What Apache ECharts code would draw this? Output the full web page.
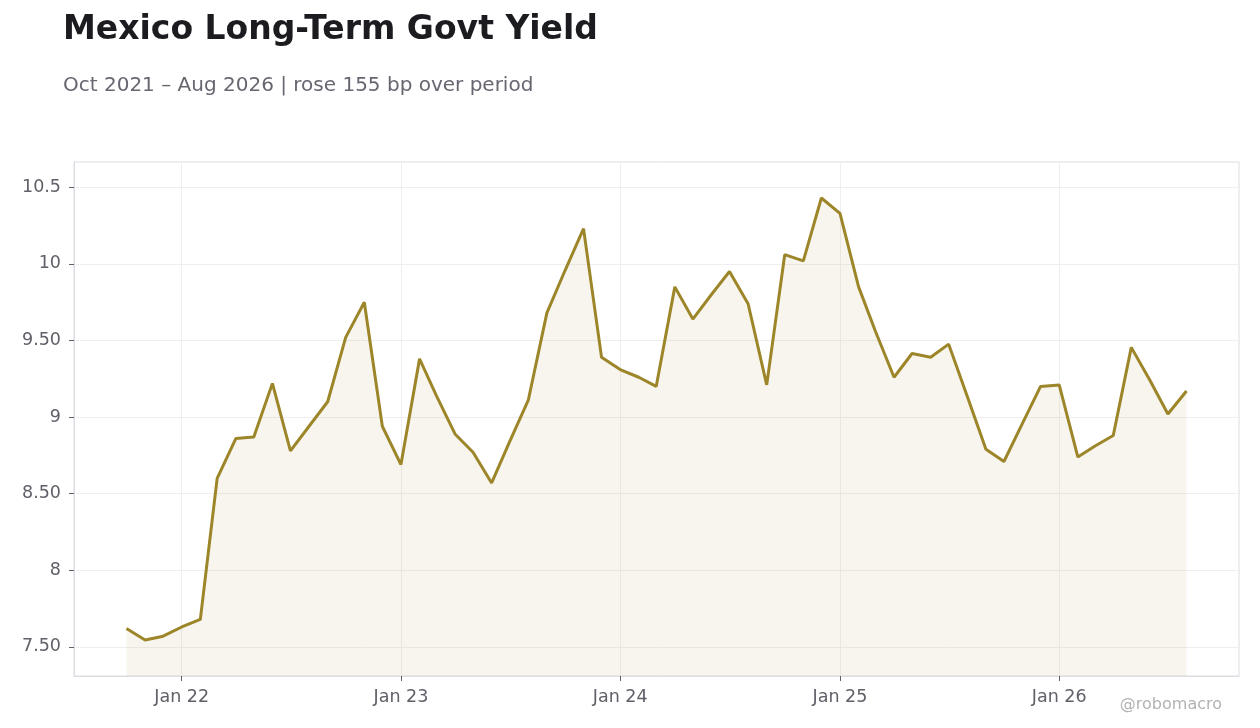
<!doctype html>
<html lang="en">
  <head>
    <meta charset="UTF-8" />
    <title>Mexico Long-Term Govt Yield</title>
    <script src="https://cdn.jsdelivr.net/npm/echarts@6/dist/echarts.min.js"></script>
    <style>
      html, body { margin: 0; padding: 0; background: #fff; }
      #chart { width: 1260px; height: 728px; }
    </style>
  </head>
  <body>
    <div id="chart"></div>
    <script>
      const months = [
        '2021-10', '2021-11', '2021-12',
        '2022-01', '2022-02', '2022-03', '2022-04', '2022-05', '2022-06',
        '2022-07', '2022-08', '2022-09', '2022-10', '2022-11', '2022-12',
        '2023-01', '2023-02', '2023-03', '2023-04', '2023-05', '2023-06',
        '2023-07', '2023-08', '2023-09', '2023-10', '2023-11', '2023-12',
        '2024-01', '2024-02', '2024-03', '2024-04', '2024-05', '2024-06',
        '2024-07', '2024-08', '2024-09', '2024-10', '2024-11', '2024-12',
        '2025-01', '2025-02', '2025-03', '2025-04', '2025-05', '2025-06',
        '2025-07', '2025-08', '2025-09', '2025-10', '2025-11', '2025-12',
        '2026-01', '2026-02', '2026-03', '2026-04', '2026-05', '2026-06',
        '2026-07', '2026-08'
      ];
      const yields = [
        7.62, 7.545, 7.57,
        7.63, 7.68, 8.60, 8.86, 8.87, 9.22,
        8.78, 8.94, 9.10, 9.52, 9.75, 8.94,
        8.69, 9.38, 9.14, 8.89, 8.77, 8.57,
        8.84, 9.11, 9.68, 9.955, 10.23, 9.39,
        9.31, 9.26, 9.20, 9.85, 9.64, 9.80,
        9.95, 9.74, 9.21, 10.06, 10.02, 10.43,
        10.33, 9.85, 9.56, 9.26, 9.415, 9.39,
        9.476, 9.135, 8.79, 8.71, 8.96, 9.20,
        9.21, 8.74, 8.81, 8.88, 9.455, 9.24,
        9.02, 9.17
      ];
      const xTicks = ['2022-01', '2023-01', '2024-01', '2025-01', '2026-01'];
      const xTickLabels = ['Jan 22', 'Jan 23', 'Jan 24', 'Jan 25', 'Jan 26'];
      const yTicks = [7.5, 8, 8.5, 9, 9.5, 10, 10.5];
      const yTickLabels = ['7.50', '8', '8.50', '9', '9.50', '10', '10.5'];

      const toTime = (m) => Date.UTC(+m.slice(0, 4), +m.slice(5, 7) - 1, 1);
      const seriesData = months.map((m, i) => [toTime(m), yields[i]]);
      const xTickTimes = xTicks.map(toTime);

      const lineColor = '#9c8629';
      const font = 'DejaVu Sans';

      const chart = echarts.init(document.getElementById('chart'));
      chart.setOption({
        animation: false,
        backgroundColor: '#ffffff',
        title: [
          {
            text: 'Mexico Long-Term Govt Yield',
            left: 58,
            top: 9,
            textStyle: { fontFamily: font, fontSize: 33, fontWeight: 'bold', color: '#1b1b20' }
          },
          {
            text: 'Oct 2021 \u2013 Aug 2026 | rose 155 bp over period',
            left: 58,
            top: 71,
            textStyle: { fontFamily: font, fontSize: 20, fontWeight: 'normal', color: '#666770' }
          }
        ],
        graphic: [
          {
            type: 'text',
            right: 38,
            top: 697,
            style: { text: '@robomacro', fill: '#b2b2b2', fontFamily: font, fontSize: 16 }
          }
        ],
        grid: {
          left: 74,
          right: 21,
          top: 162,
          bottom: 52,
          show: true,
          borderColor: '#dcdde2',
          borderWidth: 1,
          containLabel: false
        },
        xAxis: {
          type: 'value',
          scale: true,
          min: function (v) { return v.min - (v.max - v.min) * 0.0495; },
          max: function (v) { return v.max + (v.max - v.min) * 0.0495; },
          axisLine: { show: true, onZero: false, lineStyle: { color: '#dcdde2' } },
          axisTick: {
            show: true,
            length: 5,
            lineStyle: { color: '#5f6068' },
            customValues: xTickTimes
          },
          axisLabel: {
            customValues: xTickTimes,
            formatter: function (v) {
              const i = xTickTimes.indexOf(v);
              return i >= 0 ? xTickLabels[i] : '';
            },
            color: '#5f6068',
            fontFamily: font,
            fontSize: 17.5,
            margin: 12
          },
          splitLine: { show: true, lineStyle: { color: '#efefef' } }
        },
        yAxis: {
          type: 'value',
          min: 7.31,
          max: 10.665,
          axisLine: { show: true, lineStyle: { color: '#dcdde2' } },
          axisTick: {
            show: true,
            length: 5,
            lineStyle: { color: '#5f6068' },
            customValues: yTicks
          },
          axisLabel: {
            customValues: yTicks,
            formatter: function (v) {
              const i = yTicks.findIndex((t) => Math.abs(t - v) < 1e-6);
              return i >= 0 ? yTickLabels[i] : '';
            },
            color: '#5f6068',
            fontFamily: font,
            fontSize: 17.5,
            margin: 13
          },
          splitLine: { show: true, lineStyle: { color: '#efefef' } }
        },
        series: [
          {
            type: 'line',
            data: seriesData,
            showSymbol: false,
            lineStyle: { color: lineColor, width: 3 },
            itemStyle: { color: lineColor },
            areaStyle: { color: '#a08020', opacity: 0.08, origin: 'start' }
          }
        ]
      });
    </script>
  </body>
</html>
